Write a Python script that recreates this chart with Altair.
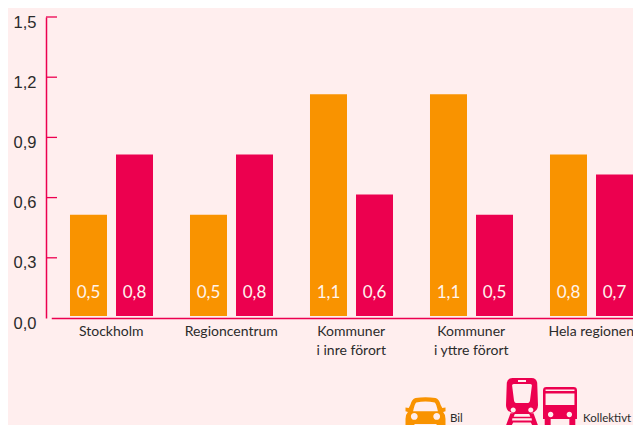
import altair as alt
import pandas as pd

categories = ["Stockholm", "Regioncentrum", "Kommuner|i inre förort", "Kommuner|i yttre förort", "Hela regionen"]
bil_bars = [0.515, 0.515, 1.115, 1.115, 0.815]
kollektivt_bars = [0.815, 0.815, 0.615, 0.515, 0.715]
bil_labels = ["0,5", "0,5", "1,1", "1,1", "0,8"]
kollektivt_labels = ["0,8", "0,8", "0,6", "0,5", "0,7"]
y_ticks = [0.0, 0.3, 0.6, 0.9, 1.2, 1.5]
modes = ["Bil", "Kollektivt"]
mode_colors = ["#F99300", "#EC004F"]
BG = "#FFEEEE"
FONT = "Lato"

rows = []
for i, c in enumerate(categories):
    rows.append(dict(cat=c, mode="Bil", v=bil_bars[i], base=0.01, lab=bil_labels[i]))
    rows.append(dict(cat=c, mode="Kollektivt", v=kollektivt_bars[i], base=0.01, lab=kollektivt_labels[i]))
df = pd.DataFrame(rows)

x = alt.X("cat:N", sort=categories, scale=alt.Scale(range=[5.25, 605.25], paddingInner=0, paddingOuter=0),
          axis=alt.Axis(title=None, orient="bottom", domain=True, domainColor="#EC004F", domainWidth=1.5,
                        ticks=False, labelAngle=0, labelFontSize=14, labelFont=FONT, labelColor="#2b2b2b",
                        labelPadding=6, labelExpr="split(datum.label, '|')", labelLineHeight=19,
                        labelBaseline="top", labelOverlap=False, labelBound=False, labelFlush=False))
xo = alt.XOffset("mode:N", sort=modes, scale=alt.Scale(range=[18.75, 101.75], paddingInner=0.196, paddingOuter=0))
y = alt.Y("v:Q", scale=alt.Scale(domain=[0, 1.5], nice=False),
          axis=alt.Axis(title=None, values=y_ticks, labelExpr="replace(format(datum.value, '.1f'), '.', ',')",
                        domainColor="#EC004F", domainWidth=1.5, ticks=False, grid=False,
                        labelFontSize=16.5, labelFont="Liberation Sans", labelColor="#2b2b2b", labelPadding=10, labelOffset=5))

color = alt.Color("mode:N", sort=modes, scale=alt.Scale(domain=modes, range=mode_colors), legend=None)

bars = alt.Chart(df).mark_bar(size=37, clip=False).encode(x=x, xOffset=xo, y=y, y2="base:Q", color=color)
labels = alt.Chart(df).mark_text(color="#FFF4EE", font=FONT, fontSize=17, baseline="middle", clip=False).encode(
    x=x, xOffset=xo, y=alt.value(276), text="lab:N")

ticks = alt.Chart(pd.DataFrame({"t": y_ticks[1:]})).mark_rule(color="#EC004F", strokeWidth=1.3).encode(
    y=alt.Y("t:Q", scale=alt.Scale(domain=[0, 1.5], nice=False)), x=alt.value(0), x2=alt.value(11))

# pictograms of the legend (holes are drawn in opposite winding)
def ring(cx, cy, r):
    return f"M{cx-r} {cy} A{r} {r} 0 0 0 {cx+r} {cy} A{r} {r} 0 0 0 {cx-r} {cy} Z "

CAR = ("M-0.5 -0.8 Q0 -0.88 0.5 -0.8 Q0.68 -0.76 0.76 -0.45 L0.84 -0.3 L1 -0.32 L1 -0.14 L0.88 -0.1 Q1 0.02 1 0.25 L1 0.55 "
       "L0.98 1.0 L0.6 1.0 L0.55 0.5 L-0.55 0.5 L-0.6 1.0 L-0.98 1.0 L-1 0.55 L-1 0.25 Q-1 0.02 -0.88 -0.1 L-1 -0.14 L-1 -0.32 L-0.84 -0.3 L-0.76 -0.45 Q-0.68 -0.76 -0.5 -0.8 Z "
       "M-0.46 -0.58 Q-0.54 -0.52 -0.62 -0.14 L0.62 -0.14 Q0.54 -0.52 0.46 -0.58 Q0 -0.66 -0.46 -0.58 Z "
       + ring(-0.56, 0.12, 0.17) + ring(0.56, 0.12, 0.17))
TRAIN = ("M-0.6 -1 L0.6 -1 Q0.9 -1 0.95 -0.7 L1 0.7 Q1 1.1 0.55 1.2 L0.72 1.2 L1.05 2.1 L0.72 2.1 L0.55 1.78 L-0.55 1.78 L-0.72 2.1 L-1.05 2.1 L-0.72 1.2 L-0.55 1.2 Q-1 1.1 -1 0.7 L-0.95 -0.7 Q-0.9 -1 -0.6 -1 Z "
         "M-0.62 -0.55 L-0.5 0.4 Q-0.48 0.56 -0.3 0.56 L0.3 0.56 Q0.48 0.56 0.5 0.4 L0.62 -0.55 Q0.6 -0.62 0.5 -0.62 L-0.5 -0.62 Q-0.6 -0.62 -0.62 -0.55 Z "
         "M-0.25 -0.88 L-0.25 -0.75 L0.25 -0.75 L0.25 -0.88 Z "
         + ring(-0.55, 1.0, 0.16) + ring(0.55, 1.0, 0.16)
         + "M-0.45 1.25 L-0.52 1.42 L0.52 1.42 L0.45 1.25 Z M-0.6 1.52 L-0.62 1.66 L0.62 1.66 L0.6 1.52 Z")
BUS = ("M-0.8 -1 L0.8 -1 Q1 -1 1 -0.8 L1 0.88 L0.9 0.88 L0.9 1.3 L0.55 1.3 L0.55 0.88 L-0.55 0.88 L-0.55 1.3 L-0.9 1.3 L-0.9 0.88 L-1 0.88 L-1 -0.8 Q-1 -1 -0.8 -1 Z "
       "M-0.85 -0.85 L-0.85 -0.76 L0.85 -0.76 L0.85 -0.85 Z "
       "M-0.85 -0.62 L-0.85 0.06 L0.85 0.06 L0.85 -0.62 Z "
       + ring(-0.55, 0.62, 0.16) + ring(0.55, 0.62, 0.16))

PX, PY = 46, 17  # plot-area origin on the page

def icon(path, cx, cy, unit, col):
    return alt.Chart(pd.DataFrame({"i": [0]})).mark_point(shape=path, filled=True, fill=col, opacity=1, size=(2 * unit) ** 2, clip=False).encode(
        x=alt.value(cx - PX), y=alt.value(cy - PY))

def legend_text(txt, px):
    return alt.Chart(pd.DataFrame({"t": [txt]})).mark_text(align="left", baseline="alphabetic", fontSize=11.5, font=FONT, color="#2b2b2b", clip=False).encode(
        x=alt.value(px - PX), y=alt.value(422 - PY), text="t:N")

chart = alt.layer(
    bars, labels, ticks,
    icon(CAR, 425.5, 414, 20, "#F99300"),
    icon(TRAIN, 522, 394, 16, "#EC004F"),
    icon(BUS, 560, 404, 17, "#EC004F"),
    legend_text("Bil", 450),
    legend_text("Kollektivt", 583),
).properties(
    width=587, height=301,
    padding={"left": PX - 8, "top": PY - 8, "right": 0, "bottom": 107},
    autosize=alt.AutoSizeParams(type="none", contains="content"),
    background=BG,
).configure_view(stroke=None)

chart.save("out.html", embed_options={"renderer": "svg", "actions": False})
